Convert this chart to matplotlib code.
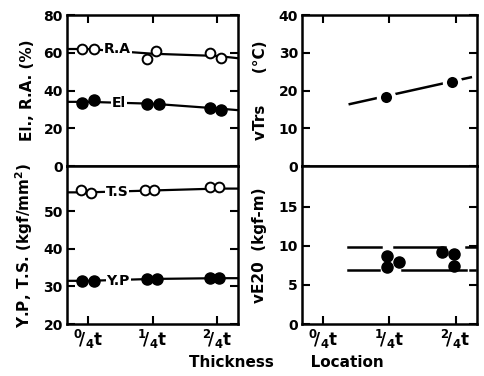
import matplotlib
matplotlib.use("Agg")
import matplotlib.pyplot as plt
import numpy as np

plt.rcParams['font.family'] = ['DejaVu Sans']
plt.rcParams['font.weight'] = 'bold'
plt.rcParams['mathtext.default'] = 'bf'

# x positions (thickness location index) with small offsets for duplicate specimens
xtick_labels = [r"$^{0}\!/_{4}$t", r"$^{1}\!/_{4}$t", r"$^{2}\!/_{4}$t"]
xticks = [0, 1, 2]

ra_x = [-0.08, 0.09, 0.92, 1.05, 1.88, 2.05]
ra_y = [62, 62, 56.6, 61, 60, 57]
el_x = [-0.08, 0.09, 0.92, 1.10, 1.88, 2.05]
el_y = [33.3, 35, 32.8, 32.8, 30.7, 29.6]
ts_x = [-0.10, 0.05, 0.88, 1.03, 1.88, 2.03]
ts_y = [55.5, 54.7, 55.5, 55.5, 56.5, 56.5]
yp_x = [-0.08, 0.09, 0.92, 1.07, 1.88, 2.03]
yp_y = [31.5, 31.5, 32, 32, 32.3, 32.3]

vtrs_x = [0.95, 1.95]
vtrs_y = [18.3, 22.2]
vtrs_line_x = [0.40, 2.23]
vtrs_line_y = [16.4, 23.5]

ve_x = [0.97, 0.97, 1.14, 1.80, 1.97, 1.97]
ve_y = [8.7, 7.3, 7.9, 9.2, 9.0, 7.4]
# dashed band segments (start, end) along x
ve_upper_segs = [(0.38, 0.87), (1.07, 1.84), (2.15, 2.32)]
ve_upper_y = 9.85
ve_lower_segs = [(0.38, 0.84), (1.19, 2.15), (2.22, 2.30)]
ve_lower_y = 6.85

ra_line_x = [-0.35, 0.0, 1.0, 2.0, 2.35]
ra_line_y = [62, 62, 59.5, 58.3, 57]
el_line_x = [-0.35, 0.0, 1.0, 2.0, 2.35]
el_line_y = [34, 34, 33, 30.5, 29.5]
ts_line_x = [-0.35, 0.0, 1.0, 2.0, 2.35]
ts_line_y = [55, 55, 55.5, 56, 56]
yp_line_x = [-0.35, 0.0, 1.0, 2.0, 2.35]
yp_line_y = [31.5, 31.5, 32, 32.2, 32.2]

fig = plt.figure(figsize=(4.85, 3.76), dpi=100)

L, LW = 0.138, 0.353
R, RW = 0.623, 0.360
B, MID, TOP = 0.138, 0.5585, 0.960

ax1 = fig.add_axes([L, MID, LW, TOP - MID])
ax2 = fig.add_axes([L, B, LW, MID - B])
ax3 = fig.add_axes([R, MID, RW, TOP - MID])
ax4 = fig.add_axes([R, B, RW, MID - B])

xlim = (-0.32, 2.32)
for ax in (ax1, ax2, ax3, ax4):
    ax.set_xlim(*xlim)
    ax.set_xticks(xticks)
    for s in ax.spines.values():
        s.set_linewidth(1.8)
    ax.tick_params(direction='in', length=6, width=1.5, top=True, right=True,
                   labelsize=10, pad=3)
for ax in (ax1, ax3):
    ax.tick_params(labelbottom=False, bottom=False)
for ax in (ax2, ax4):
    ax.tick_params(top=False)
    ax.set_xticklabels(xtick_labels, fontsize=12)

ms_f = 8
ms_o = 7
lab_kw = dict(fontsize=10, fontweight='bold', ha='center', va='center',
              bbox=dict(facecolor='white', edgecolor='none', pad=0.5), zorder=4)

# Top left: El., R.A.
ax1.set_ylim(0, 80)
ax1.set_yticks([0, 20, 40, 60, 80])
ax1.plot(ra_line_x, ra_line_y, color='black', lw=1.6, zorder=2)
ax1.plot(el_line_x, el_line_y, color='black', lw=1.6, zorder=2)
ax1.plot(ra_x, ra_y, 'o', mfc='white', mec='black', mew=1.4, ms=ms_o, ls='none', zorder=5)
ax1.plot(el_x, el_y, 'o', color='black', ms=ms_f, ls='none', zorder=5)
ax1.text(0.46, 62, "R.A", **lab_kw)
ax1.text(0.48, 33.5, "El", **lab_kw)
ax1.set_ylabel("El., R.A. (%)", fontsize=11, fontweight='bold', labelpad=6)

# Bottom left: Y.P., T.S.
ax2.set_ylim(20, 62)
ax2.set_yticks([20, 30, 40, 50])
ax2.plot(ts_line_x, ts_line_y, color='black', lw=1.6, zorder=2)
ax2.plot(yp_line_x, yp_line_y, color='black', lw=1.6, zorder=2)
ax2.plot(ts_x, ts_y, 'o', mfc='white', mec='black', mew=1.4, ms=ms_o, ls='none', zorder=5)
ax2.plot(yp_x, yp_y, 'o', color='black', ms=ms_f, ls='none', zorder=5)
ax2.text(0.45, 55, "T.S", **lab_kw)
ax2.text(0.47, 31.5, "Y.P", **lab_kw)
ax2.set_ylabel("Y.P, T.S. (kgf/mm$^{2}$)", fontsize=11, fontweight='bold', labelpad=6)

# Top right: vTrs
ax3.set_ylim(0, 40)
ax3.set_yticks([0, 10, 20, 30, 40])
ax3.plot(vtrs_line_x, vtrs_line_y, color='black', lw=1.8, zorder=2)
ax3.plot(vtrs_x, vtrs_y, 'o', mfc='black', mec='white', mew=3, ms=ms_f + 3,
         ls='none', zorder=5)
ax3.set_ylabel("vTrs      (\u00b0C)", fontsize=11, fontweight='bold', labelpad=8)

# Bottom right: vE20
ax4.set_ylim(0, 20.2)
ax4.set_yticks([0, 5, 10, 15])
for x0, x1 in ve_upper_segs:
    ax4.plot([x0, x1], [ve_upper_y, ve_upper_y], color='black', lw=1.8, zorder=2)
for x0, x1 in ve_lower_segs:
    ax4.plot([x0, x1], [ve_lower_y, ve_lower_y], color='black', lw=1.8, zorder=2)
ax4.plot(ve_x, ve_y, 'o', color='black', ms=ms_f, ls='none', zorder=5)
ax4.set_ylabel("vE20  (kgf-m)", fontsize=11, fontweight='bold', labelpad=8)

fig.text(0.59, 0.035, "Thickness       Location", fontsize=11, fontweight='bold',
         ha='center', va='center')

fig.savefig("out.png", dpi=100)
